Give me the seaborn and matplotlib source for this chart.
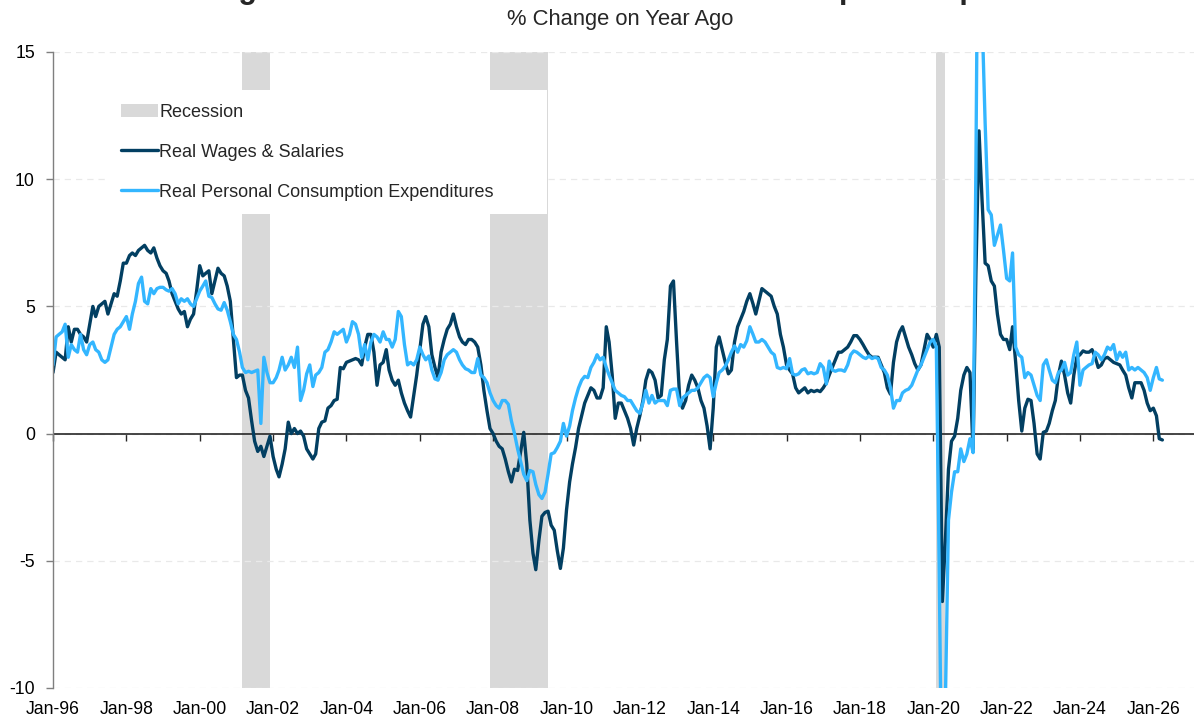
import matplotlib
matplotlib.use('Agg')
import matplotlib.pyplot as plt
import matplotlib.dates as mdates
import pandas as pd
import seaborn as sns

# Monatswerte ab Jan-96, % ggü. Vorjahr (eine Zeile = ein Jahr)
start_month = '1996-01-01'

wages = [
    2.4, 3.2, 3.1, 3.0, 2.9, 4.2, 3.6, 4.1, 4.1, 3.9, 3.8, 3.6,        # 1996
    4.3, 5.0, 4.6, 5.0, 5.1, 5.2, 4.7, 5.1, 5.5, 5.4, 6.0, 6.7,        # 1997
    6.7, 7.0, 7.1, 7.0, 7.2, 7.3, 7.4, 7.2, 7.1, 7.3, 6.9, 6.6,        # 1998
    6.4, 6.3, 6.0, 5.5, 5.2, 4.9, 4.7, 4.8, 4.2, 4.5, 4.7, 5.6,        # 1999
    6.6, 6.2, 6.3, 6.4, 5.5, 6.0, 6.5, 6.3, 6.2, 5.8, 5.2, 3.7,        # 2000
    2.2, 2.3, 2.3, 1.7, 1.4, 0.5, -0.3, -0.7, -0.5, -0.9, -0.5, -0.1,  # 2001
    -0.9, -1.4, -1.7, -1.2, -0.6, 0.45, 0.0, 0.2, 0.0, 0.1, -0.1, -0.6,  # 2002
    -0.8, -1.0, -0.8, 0.2, 0.45, 0.5, 1.0, 1.1, 1.3, 1.35, 2.6, 2.55,  # 2003
    2.8, 2.85, 2.9, 2.95, 2.9, 2.7, 3.4, 3.9, 3.9, 3.2, 1.9, 2.7,      # 2004
    2.8, 3.3, 2.5, 2.1, 1.9, 2.1, 1.6, 1.2, 0.9, 0.65, 1.5, 2.3,       # 2005
    3.3, 4.3, 4.6, 4.2, 3.1, 2.6, 2.2, 3.2, 3.7, 4.1, 4.3, 4.7,        # 2006
    4.2, 3.8, 3.6, 3.5, 3.7, 3.7, 3.6, 3.4, 2.7, 1.7, 0.9, 0.2,        # 2007
    0.0, -0.3, -0.5, -0.6, -1.0, -1.5, -1.9, -1.4, -1.45, -0.7, 0.05, -1.2,  # 2008
    -3.4, -4.7, -5.35, -4.2, -3.25, -3.1, -3.05, -3.6, -3.8, -4.6, -5.3, -4.5,  # 2009
    -3.0, -1.9, -1.2, -0.55, 0.2, 0.7, 1.2, 1.5, 1.8, 1.7, 1.4, 1.4,   # 2010
    1.8, 4.2, 3.6, 2.3, 0.6, 1.2, 1.2, 0.9, 0.6, 0.2, -0.45, 0.2,      # 2011
    0.7, 1.3, 2.1, 2.5, 2.4, 2.1, 1.4, 1.5, 2.9, 3.7, 5.8, 6.0,        # 2012
    3.6, 1.4, 1.0, 1.3, 1.9, 2.3, 2.1, 1.8, 1.3, 1.0, 0.3, -0.6,       # 2013
    1.0, 3.4, 3.8, 3.3, 2.8, 2.35, 2.5, 3.6, 4.2, 4.5, 4.8, 5.2,       # 2014
    5.5, 5.1, 4.7, 5.2, 5.7, 5.6, 5.5, 5.4, 5.0, 4.7, 3.9, 3.4,        # 2015
    2.7, 2.5, 2.35, 1.8, 1.6, 1.7, 1.8, 1.6, 1.7, 1.65, 1.7, 1.65,     # 2016
    1.8, 2.0, 2.3, 2.6, 2.9, 3.2, 3.2, 3.3, 3.4, 3.6, 3.85, 3.85,      # 2017
    3.7, 3.5, 3.3, 3.1, 3.0, 3.0, 3.0, 2.7, 2.4, 1.8, 1.55, 2.8,       # 2018
    3.6, 4.0, 4.2, 3.8, 3.4, 3.1, 2.75, 2.5, 2.7, 3.3, 3.9, 3.7,       # 2019
    3.4, 3.9, 3.4, -6.6, -4.2, -1.4, -0.3, -0.1, 0.6, 1.7, 2.3, 2.6,   # 2020
    2.4, -0.7, 6.3, 11.9, 9.2, 6.7, 6.6, 6.0, 5.8, 4.7, 3.9, 3.7,      # 2021
    3.7, 3.3, 4.2, 2.8, 1.3, 0.1, 1.0, 1.35, 1.3, 0.4, -0.8, -1.0,     # 2022
    0.05, 0.1, 0.4, 0.9, 1.3, 2.3, 2.85, 2.3, 1.6, 1.2, 2.3, 3.0,      # 2023
    3.1, 3.25, 3.2, 3.2, 3.3, 3.0, 2.6, 2.7, 2.95, 3.0, 2.9, 2.8,      # 2024
    2.75, 2.7, 2.5, 2.3, 1.8, 1.4, 2.0, 2.0, 2.0, 1.7, 1.2, 0.9,       # 2025
    1.0, 0.7, -0.2, -0.25,                                             # 2026
]

pce = [
    2.7, 3.8, 3.9, 4.0, 4.3, 3.0, 3.5, 3.3, 3.2, 3.9, 3.3, 3.1,        # 1996
    3.5, 3.6, 3.3, 3.2, 2.9, 2.8, 2.9, 3.4, 3.9, 4.1, 4.2, 4.4,        # 1997
    4.6, 4.1, 4.7, 5.2, 5.9, 6.15, 5.2, 5.1, 5.7, 5.5, 5.7, 5.75,      # 1998
    5.75, 5.65, 5.6, 5.7, 5.5, 5.1, 5.3, 5.2, 5.3, 5.1, 5.0, 5.3,      # 1999
    5.6, 5.8, 6.0, 5.4, 5.35, 5.1, 4.9, 4.85, 5.15, 4.85, 4.4, 3.9,    # 2000
    3.7, 3.2, 2.6, 2.4, 2.45, 2.4, 2.45, 2.5, 0.4, 3.0, 2.4, 2.0,      # 2001
    2.0, 2.2, 2.5, 3.0, 2.5, 2.7, 3.0, 2.6, 3.4, 1.3, 1.7, 2.35,       # 2002
    2.7, 1.85, 2.3, 2.4, 2.6, 3.2, 3.3, 3.6, 4.0, 3.9, 4.0, 4.1,       # 2003
    3.6, 3.9, 4.4, 4.3, 3.9, 3.0, 3.5, 2.9, 3.6, 3.9, 3.8, 3.6,        # 2004
    4.0, 3.7, 3.7, 3.4, 3.7, 4.8, 4.6, 3.5, 2.7, 2.8, 2.7, 2.9,        # 2005
    3.4, 3.1, 2.9, 3.05, 2.5, 2.15, 2.1, 2.4, 2.9, 3.1, 3.2, 3.3,      # 2006
    3.2, 2.9, 2.7, 2.55, 2.5, 2.4, 2.4, 2.95, 2.3, 2.2, 2.0, 1.6,      # 2007
    1.3, 1.1, 1.0, 1.3, 1.3, 1.15, 0.5, 0.0, -0.6, -1.1, -1.6, -1.85,  # 2008
    -1.45, -1.5, -2.0, -2.4, -2.55, -2.3, -1.6, -0.8, -0.75, -0.55, -0.3, 0.4,  # 2009
    -0.1, 0.3, 0.9, 1.4, 1.8, 2.1, 2.25, 2.2, 2.6, 2.8, 3.1, 2.9,      # 2010
    3.0, 2.6, 2.3, 2.0, 1.7, 1.6, 1.5, 1.45, 1.3, 1.3, 1.1, 0.9,       # 2011
    0.8, 1.2, 1.7, 1.2, 1.5, 1.2, 1.3, 1.3, 1.3, 1.1, 1.7, 1.75,       # 2012
    1.75, 1.1, 1.4, 1.5, 1.6, 1.7, 1.7, 1.8, 2.0, 2.2, 2.3, 2.2,       # 2013
    1.45, 2.0, 2.4, 2.5, 2.65, 2.9, 3.2, 3.45, 3.2, 3.5, 3.4, 3.65,    # 2014
    4.2, 3.9, 3.6, 3.6, 3.7, 3.6, 3.4, 3.2, 3.1, 2.6, 2.55, 2.6,       # 2015
    2.55, 2.95, 2.35, 2.3, 2.35, 2.5, 2.55, 2.35, 2.4, 2.35, 2.4, 2.75,  # 2016
    2.6, 1.95, 2.85, 2.5, 2.45, 2.5, 2.5, 2.45, 2.7, 3.1, 3.25, 3.2,   # 2017
    3.1, 3.0, 2.95, 3.05, 2.95, 3.0, 2.95, 2.6, 2.5, 2.3, 1.8, 1.0,    # 2018
    1.3, 1.3, 1.6, 1.7, 1.75, 1.9, 2.2, 2.5, 2.7, 3.0, 3.3, 3.6,       # 2019
    3.7, 3.4, -5.5, -16.5, -10.6, -3.4, -2.3, -1.5, -1.5, -0.6, -1.1, -0.8,  # 2020
    -0.2, -0.75, 10.5, 26.5, 16.5, 12.2, 8.8, 8.6, 7.4, 7.8, 8.2, 7.2,  # 2021
    6.1, 6.0, 7.1, 3.4, 3.1, 3.0, 2.2, 2.4, 2.3, 1.9, 1.5, 1.3,        # 2022
    2.7, 2.9, 2.5, 2.1, 2.0, 2.4, 2.5, 2.8, 2.3, 2.4, 3.1, 3.6,        # 2023
    1.9, 2.5, 2.6, 2.7, 2.75, 3.2, 3.1, 2.9, 3.1, 3.4, 3.3, 3.5,       # 2024
    2.9, 3.2, 3.0, 3.2, 2.5, 2.6, 2.5, 2.6, 2.5, 2.4, 2.2, 1.7,        # 2025
    2.2, 2.6, 2.15, 2.1,                                               # 2026
]

recession_starts = ['2001-03-01', '2007-12-01', '2020-02-01']
recession_ends = ['2001-11-30', '2009-06-30', '2020-04-30']
tick_years = list(range(1996, 2027, 2))

DARK = '#023F62'
LIGHT = '#33B6FF'
SHADE = '#D9D9D9'

dates = pd.date_range(start_month, periods=len(wages), freq='MS')
df = pd.DataFrame({'date': dates, 'wages': wages, 'pce': pce})

sns.set_style('white')
plt.rcParams['font.family'] = ['Liberation Sans', 'DejaVu Sans']
plt.rcParams['axes.unicode_minus'] = False

fig = plt.figure(figsize=(11.94, 7.21), dpi=100)
ax = fig.add_axes([53 / 1194, 33 / 721, 1141 / 1194, 636 / 721])

# Rezessionen
for i, (s, e) in enumerate(zip(recession_starts, recession_ends)):
    ax.axvspan(pd.Timestamp(s), pd.Timestamp(e), color=SHADE, lw=0, zorder=0,
               label='Recession' if i == 0 else None)

ax.grid(axis='y', color='#E9E9E9', lw=0.9, ls=(0, (5, 4)), zorder=0.5)
ax.axhline(0, color='#262626', lw=1.2, zorder=1.5)

sns.lineplot(data=df, x='date', y='wages', color=DARK, lw=2.4, ax=ax,
             label='Real Wages & Salaries')
sns.lineplot(data=df, x='date', y='pce', color=LIGHT, lw=2.4, ax=ax,
             label='Real Personal Consumption Expenditures')

ax.set_ylim(-10, 15)
ax.set_xlim(pd.Timestamp('1996-01-01'), pd.Timestamp('2027-02-10'))
ax.set_yticks(range(-10, 16, 5))
ticks = [pd.Timestamp(f'{y}-01-01') for y in tick_years]
ax.set_xticks(ticks)
ax.xaxis.set_major_formatter(mdates.DateFormatter('%b-%y'))
ax.set_xlabel('')
ax.set_ylabel('')

for side in ['top', 'right', 'bottom']:
    ax.spines[side].set_visible(False)
ax.spines['left'].set_color('#7F7F7F')
ax.spines['left'].set_linewidth(1)
ax.tick_params(axis='x', length=0, pad=9, labelsize=12.7, labelcolor='black')
ax.tick_params(axis='y', length=5, width=1, color='#7F7F7F', pad=8,
               labelsize=12.7, labelcolor='black', left=True)

# Tickstriche an der Nulllinie
zero = ax.secondary_xaxis((0 - (-10)) / 25)
zero.set_xticks(mdates.date2num(ticks))
zero.set_xticklabels([])
zero.tick_params(axis='x', direction='out', length=5, width=1, color='#262626')
zero.spines['bottom'].set_visible(False)

handles, labels = ax.get_legend_handles_labels()
ax.legend(handles, labels, loc='upper left', bbox_to_anchor=(0.0474, 0.5, 0.3856, 0.44),
          mode='expand', borderaxespad=0, frameon=True, fancybox=False,
          framealpha=1, facecolor='white', edgecolor='none', fontsize=13,
          handlelength=2.05, handletextpad=0.1, labelspacing=1.27, borderpad=0.75)

fig.text(618 / 1194, 1 + 2.4 / 721,
         'Real Wages & Salaries vs. Real Personal Consumption Expenditures',
         ha='center', va='baseline', fontsize=22, fontweight='bold')
fig.text(620 / 1194, 1 - 24.5 / 721, '% Change on Year Ago',
         ha='center', va='baseline', fontsize=15.8)

fig.savefig('out.png', dpi=100)
